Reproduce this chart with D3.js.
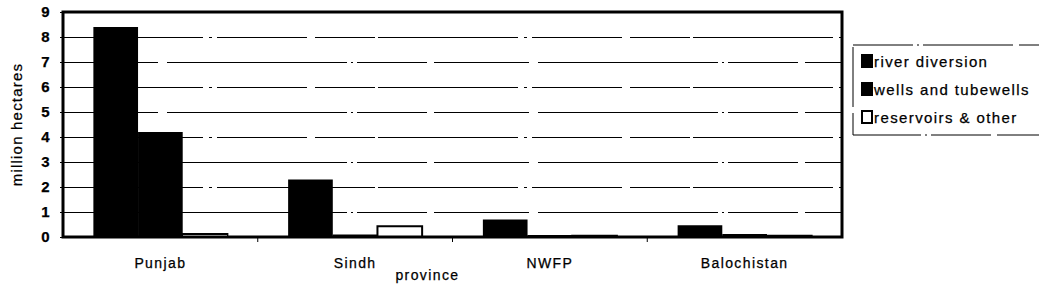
<!DOCTYPE html>
<html>
<head>
<meta charset="utf-8">
<script src="https://cdn.jsdelivr.net/npm/d3@7"></script>
<style>
  body { margin: 0; background: #fff; }
  svg { display: block; font-family: "Liberation Sans", Arial, sans-serif; }
  text { fill: #000; stroke: #000; stroke-width: 0.25px; }
</style>
</head>
<body>
<svg id="chart" width="1039" height="289"></svg>
<script>
'use strict'

// values, million hectares
let provinces = ['Punjab', 'Sindh', 'NWFP', 'Balochistan']
let series = ['river diversion', 'wells and tubewells', 'reservoirs & other']
let riverDiversion = [8.4, 2.3, 0.7, 0.47]
let wellsTubewells = [4.2, 0.1, 0.08, 0.12]
let reservoirsOther = [0.12, 0.43, 0.05, 0.05]
let yTicks = [0, 1, 2, 3, 4, 5, 6, 7, 8, 9]

let seriesFill = ['#000', '#000', '#fff']

let margin = { top: 12, right: 197, bottom: 52, left: 63 }
let svg = d3.select('#chart')
let width = 1039 - margin.left - margin.right
let height = 289 - margin.top - margin.bottom

let g = svg.append('g')
  .attr('transform', 'translate(' + margin.left + ',' + margin.top + ')')

let xScale = d3.scaleBand().domain(provinces).range([0, width]).paddingInner(0).paddingOuter(0)
let inner = d3.scaleBand().domain(series).range([0, xScale.bandwidth()]).paddingOuter(0.68)
let yScale = d3.scaleLinear().domain([0, 9]).range([height, 0])

// gridlines, broken like a scan
g.append('g')
  .selectAll('line')
  .data(yTicks.filter(t => t > 0 && t < 9))
  .enter()
  .append('line')
  .attr('x1', 0)
  .attr('x2', width)
  .attr('y1', d => yScale(d) + 0.5)
  .attr('y2', d => yScale(d) + 0.5)
  .attr('stroke', '#000')
  .attr('stroke-width', 1)
  .attr('stroke-dasharray', (d, i) => i % 2 ? '140,6,3,5,90,8,60,3' : '95,9,180,4,2,4,70,7')

let data = provinces.map((p, i) => ({
  province: p,
  values: [riverDiversion[i], wellsTubewells[i], reservoirsOther[i]]
}))

g.selectAll('.grp')
  .data(data)
  .enter()
  .append('g')
  .attr('transform', d => 'translate(' + xScale(d.province) + ',0)')
  .selectAll('rect')
  .data(d => d.values.map((v, i) => ({ key: series[i], value: v, i: i })))
  .enter()
  .append('rect')
  .attr('x', d => inner(d.key))
  .attr('width', inner.bandwidth())
  .attr('y', d => yScale(d.value))
  .attr('height', d => height - yScale(d.value))
  .attr('fill', d => seriesFill[d.i])
  .attr('stroke', '#000')
  .attr('stroke-width', d => d.i === 2 ? 2 : 0)

// y axis
let yAxis = g.append('g')
  .call(d3.axisLeft(yScale).tickValues(yTicks).tickSize(3).tickPadding(10))
yAxis.select('.domain').remove()
yAxis.selectAll('line').attr('stroke', '#000')
yAxis.selectAll('text')
  .attr('font-size', 15)
  .attr('font-weight', 'bold')
  .attr('letter-spacing', 0.5)

// x axis
let xAxis = g.append('g')
  .attr('transform', 'translate(0,' + height + ')')
  .call(d3.axisBottom(xScale).tickSize(0).tickPadding(21))
xAxis.select('.domain').remove()
xAxis.selectAll('text')
  .attr('font-size', 14)
  .attr('letter-spacing', 1.4)

// separators between provinces
g.selectAll('.sep')
  .data(provinces.slice(1))
  .enter()
  .append('line')
  .attr('x1', d => xScale(d))
  .attr('x2', d => xScale(d))
  .attr('y1', height)
  .attr('y2', height + 5)
  .attr('stroke', '#000')

// frame
g.append('rect')
  .attr('x', 0).attr('y', 0)
  .attr('width', width).attr('height', height)
  .attr('fill', 'none')
  .attr('stroke', '#000')
  .attr('stroke-width', 3)

// axis titles
g.append('text')
  .text('million hectares')
  .attr('transform', 'translate(-41,' + (height / 2) + ') rotate(-90)')
  .attr('text-anchor', 'middle')
  .attr('font-size', 15)
  .attr('letter-spacing', 1.2)

g.append('text')
  .text('province')
  .attr('x', width / 2 - 25)
  .attr('y', height + 43)
  .attr('text-anchor', 'middle')
  .attr('font-size', 14)
  .attr('letter-spacing', 1.4)

// legend
let legend = svg.append('g').attr('transform', 'translate(853,45)')
legend.append('rect')
  .attr('width', 190).attr('height', 90)
  .attr('fill', 'none')
  .attr('stroke', '#000')
  .attr('stroke-width', 1)
  .attr('stroke-dasharray', '60,4,2,4,90,6')

let item = legend.selectAll('.item')
  .data(series)
  .enter()
  .append('g')
  .attr('transform', (d, i) => 'translate(8,' + (22 + i * 28) + ')')
item.append('rect')
  .attr('x', 1).attr('y', -12)
  .attr('width', 10).attr('height', 12)
  .attr('fill', (d, i) => seriesFill[i])
  .attr('stroke', '#000')
  .attr('stroke-width', 2)
item.append('text')
  .text(d => d)
  .attr('x', 13)
  .attr('y', 0)
  .attr('font-size', 15)
  .attr('letter-spacing', 1.4)
</script>
</body>
</html>
